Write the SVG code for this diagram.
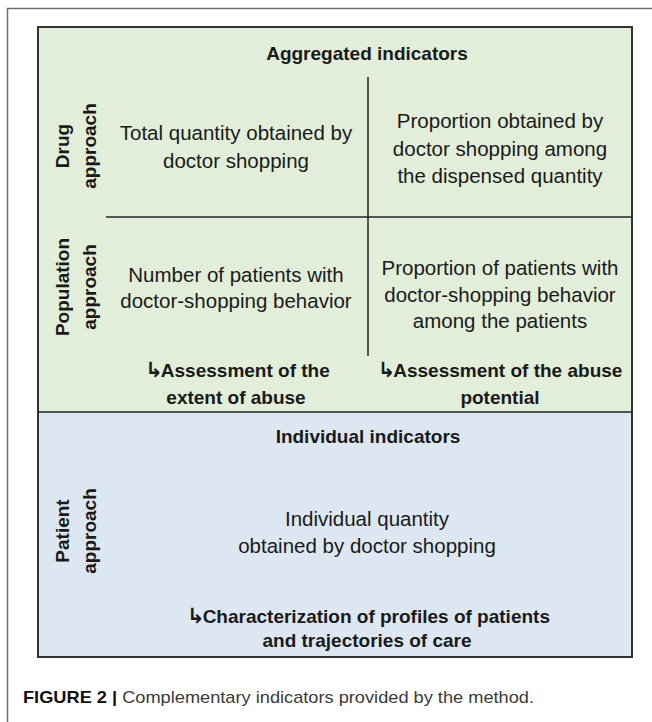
<svg xmlns="http://www.w3.org/2000/svg" width="652" height="722" viewBox="0 0 652 722">
<style>
text{font-family:"Liberation Sans",Arial,sans-serif;fill:#1a1a1a}
.r{font-size:20.5px;text-anchor:middle}
.b{font-size:19px;font-weight:bold;text-anchor:middle}
.ar{font-family:"DejaVu Sans",sans-serif;font-size:21px;font-weight:bold;letter-spacing:-2px}
.ln{stroke:#222;stroke-width:1.5;fill:none}
</style>
<rect width="652" height="722" fill="#ffffff"/>
<path d="M7.5,722 V8.5 H652" fill="none" stroke="#6e6e6e" stroke-width="1.5"/>
<g id="aggregated">
<rect x="38" y="27" width="594" height="385" fill="#e2eed9"/>
<text class="b" x="367" y="60">Aggregated indicators</text>
</g>
<g id="individual">
<rect x="38" y="412" width="594" height="245" fill="#dce7f2"/>
<text class="b" x="368" y="443">Individual indicators</text>
</g>
<g id="frame">
<rect x="38" y="27" width="594" height="630" fill="none" stroke="#333" stroke-width="2"/>
</g>
<g id="connectors">
<line class="ln" x1="38" y1="412" x2="632" y2="412" stroke-width="2"/>
<line class="ln" x1="368" y1="77" x2="368" y2="356"/>
<line class="ln" x1="106" y1="217" x2="632" y2="217"/>
</g>
<g id="label-drug">
<text class="b" transform="translate(69,146) rotate(-90)">Drug</text>
<text class="b" transform="translate(96,146) rotate(-90)">approach</text>
</g>
<g id="label-population">
<text class="b" transform="translate(69,287) rotate(-90)">Population</text>
<text class="b" transform="translate(96,287) rotate(-90)">approach</text>
</g>
<g id="label-patient">
<text class="b" transform="translate(69,531) rotate(-90)">Patient</text>
<text class="b" transform="translate(96,531) rotate(-90)">approach</text>
</g>
<g id="cell-drug-total">
<text class="r" x="236" y="140">Total quantity obtained by</text>
<text class="r" x="236" y="168">doctor shopping</text>
</g>
<g id="cell-drug-proportion">
<text class="r" x="500" y="128">Proportion obtained by</text>
<text class="r" x="500" y="156">doctor shopping among</text>
<text class="r" x="500" y="183">the dispensed quantity</text>
</g>
<g id="cell-pop-number">
<text class="r" x="236" y="282">Number of patients with</text>
<text class="r" x="236" y="308">doctor-shopping behavior</text>
</g>
<g id="cell-pop-proportion">
<text class="r" x="500" y="275">Proportion of patients with</text>
<text class="r" x="500" y="302">doctor-shopping behavior</text>
<text class="r" x="500" y="328">among the patients</text>
</g>
<g id="assess-extent">
<text class="b" x="237.5" y="377"><tspan class="ar">↳</tspan>Assessment of the</text>
<text class="b" x="236" y="404">extent of abuse</text>
</g>
<g id="assess-potential">
<text class="b" x="500" y="377"><tspan class="ar">↳</tspan>Assessment of the abuse</text>
<text class="b" x="500" y="404">potential</text>
</g>
<g id="cell-patient">
<text class="r" x="367" y="526">Individual quantity</text>
<text class="r" x="367" y="553">obtained by doctor shopping</text>
</g>
<g id="characterization">
<text class="b" x="368.5" y="623"><tspan class="ar">↳</tspan>Characterization of profiles of patients</text>
<text class="b" x="367" y="647">and trajectories of care</text>
</g>
<g id="caption">
<text x="23" y="702.5" font-size="17" textLength="511" lengthAdjust="spacingAndGlyphs"><tspan font-weight="bold" fill="#111">FIGURE 2 |</tspan><tspan fill="#3a3a3a"> Complementary indicators provided by the method.</tspan></text>
</g>
</svg>
